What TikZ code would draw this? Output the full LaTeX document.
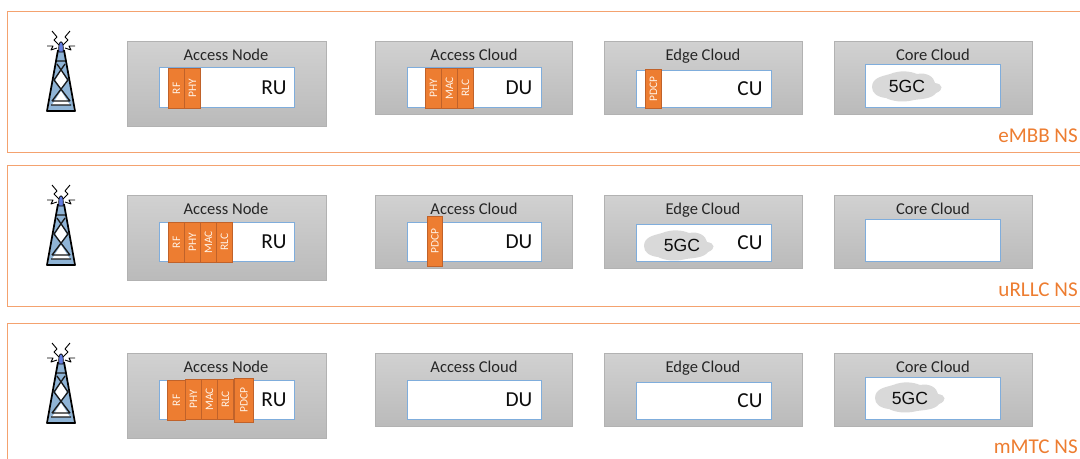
\documentclass[tikz,border=0pt]{standalone}
\usepackage{fontspec}
\setmainfont{Carlito}
\newfontfamily\arialf{Liberation Sans}
\definecolor{nsorange}{HTML}{ED7D31}
\definecolor{nsline}{HTML}{F4A26F}
\definecolor{boxblue}{HTML}{7FADDC}
\definecolor{blockedge}{HTML}{C0622A}
\definecolor{steel}{HTML}{8FB4D6}
\tikzset{
  x=0.75pt,y=-0.75pt,
  panel/.style={draw=nsline,line width=0.75pt},
  graybox/.style={draw=black!30,line width=0.6pt,top color=black!18,bottom color=black!27},
  whitebox/.style={draw=boxblue,fill=white,line width=0.7pt},
  block/.style={draw=blockedge,fill=nsorange,line width=0.6pt},
  blocktext/.style={text=white!90!orange,font=\fontsize{8.6}{9}\selectfont,rotate=90,inner sep=0pt},
  title/.style={text=black!85,font=\fontsize{12.4}{14}\selectfont,inner sep=0pt,text height=8.5pt,text depth=2.5pt},
  unit/.style={text=black!95,font=\fontsize{16}{18}\selectfont,inner sep=0pt},
  gc/.style={text=black!95,font=\arialf\fontsize{13.2}{15}\selectfont,inner sep=0pt},
  nslabel/.style={text=nsorange,font=\fontsize{15.8}{18}\selectfont,inner sep=0pt,anchor=east},
  towerleg/.style={draw=black,line width=1.3pt,line join=round},
  towerbrace/.style={draw=black!90,line width=1pt},
  zap/.style={draw=black,line width=0.7pt,line join=round},
  towerblue/.style={fill=steel},
  cloudfill/.style={fill=black!15,draw=none},
}
\newcommand{\gbox}[5]{\node[graybox,inner sep=0pt,minimum width=#4*0.75pt-#2*0.75pt-0.5pt,minimum height=#5*0.75pt-#3*0.75pt-0.5pt,anchor=north west] (#1) at (#2,#3) {};}
\newcommand{\wbox}[5]{\node[whitebox,inner sep=0pt,minimum width=#4*0.75pt-#2*0.75pt-0.5pt,minimum height=#5*0.75pt-#3*0.75pt-0.5pt,anchor=north west] (#1) at (#2,#3) {};}
\newcommand{\blk}[6]{\node[block,inner sep=0pt,minimum width=#4*0.75pt-#2*0.75pt,minimum height=#5*0.75pt-#3*0.75pt,anchor=north west] (#1) at (#2,#3) {};
  \node[blocktext] (#1t) at (#1.center) {#6};}
\newcommand{\tower}[1]{\begin{scope}[shift={(61,#1)}]
  \path[towerblue] (-3.5,20) -- (3.5,20) -- (13,80) -- (-13,80) -- cycle;
  \path[fill=white] (0,60) -- (9,74) -- (-9,74) -- cycle;
  \path[fill=white] (0,39) -- (5.5,49) -- (0,58) -- (-5.5,49) -- cycle;
  \draw[towerleg] (-3,19) -- (-14,80) -- (14,80) -- (3,19);
  \draw[towerbrace] (-4,30) -- (4,30) (-4,33) -- (7,49) -- (-9,70)
     (4,33) -- (-7,49) -- (9,70) (-9,70) -- (9,70) (-10,74) -- (10,74);
  \path[fill=steel!70!blue,draw=black,line width=0.5pt] (-2.2,16) .. controls (-2.2,9) and (2.2,9) .. (2.2,16) -- (2.2,21) -- (-2.2,21) -- cycle;
  \draw[zap] (-9,0) -- (-4,6) -- (-7,9) -- (-2,14);
  \draw[zap] (9,0) -- (4,6) -- (7,9) -- (2,14);
  \draw[zap] (-14,15) -- (-8,15) -- (-10,19) -- (-4,17);
  \draw[zap] (14,15) -- (8,15) -- (10,19) -- (4,17);
\end{scope}}
\newcommand{\blob}[2]{\begin{scope}[shift={(#1,#2)}]
  \path[cloudfill] (0,16) .. controls (0,6) and (12,5) .. (18,3) .. controls (28,-1) and (38,0) .. (45,3)
   .. controls (55,1) and (62,6) .. (63,12) .. controls (71,13) and (72,19) .. (64,22)
   .. controls (60,28) and (48,28) .. (42,29) .. controls (30,32) and (20,30) .. (14,27) .. controls (5,26) and (0,22) .. (0,16) -- cycle;
\end{scope}}
\begin{document}
\begin{tikzpicture}
\useasboundingbox (0,0) rectangle (1080,458);
\draw[panel] (1081,11) -- (7,11) -- (7,152) -- (1081,152);
\draw[panel] (1081,165) -- (7,165) -- (7,306) -- (1081,306);
\draw[panel] (1081,323) -- (7,323) -- (7,459);
\tower{31}\tower{185}\tower{343}
% row 1
\gbox{an1}{127}{41}{327}{127}\gbox{ac1}{375}{41}{573}{115}\gbox{ec1}{604}{41}{803}{115}\gbox{cc1}{834}{41}{1033}{115}
\wbox{ru1}{159}{67}{295}{108}\wbox{du1}{407}{67}{542}{108}\wbox{cu1}{636}{70}{772}{108}\wbox{co1}{865}{64}{1001}{108}
\node[title] (tan1) at (226,56) {Access Node};
\node[title] (tac1) at (474,56) {Access Cloud};
\node[title] (tec1) at (703,56) {Edge Cloud};
\node[title] (tcc1) at (933,56) {Core Cloud};
\blk{a1}{168}{68}{184}{108}{RF}\blk{a2}{184}{68}{200}{108}{PHY}
\blk{b1}{425}{68}{441}{108}{PHY}\blk{b2}{441}{68}{457}{108}{MAC}\blk{b3}{457}{68}{473}{108}{RLC}
\blk{c1}{645}{69}{661}{108}{PDCP}
\node[unit] (lru1) at (274,88) {RU};
\node[unit] (ldu1) at (519,88) {DU};
\node[unit] (lcu1) at (750,89) {CU};
\blob{872}{71}
\node[gc] (g1) at (907,86) {5GC};
\node[nslabel] (ns1) at (1078,136) {eMBB NS};
% row 2
\gbox{an2}{127}{195}{327}{281}\gbox{ac2}{375}{195}{573}{269}\gbox{ec2}{604}{195}{803}{269}\gbox{cc2}{834}{195}{1033}{269}
\wbox{ru2}{159}{222}{295}{262}\wbox{du2}{407}{222}{542}{262}\wbox{cu2}{636}{224}{772}{262}\wbox{co2}{865}{219}{1001}{262}
\node[title] (tan2) at (226,210) {Access Node};
\node[title] (tac2) at (474,210) {Access Cloud};
\node[title] (tec2) at (703,210) {Edge Cloud};
\node[title] (tcc2) at (933,210) {Core Cloud};
\blk{d1}{168}{222}{184}{262}{RF}\blk{d2}{184}{222}{200}{262}{PHY}\blk{d3}{200}{222}{216}{262}{MAC}\blk{d4}{216}{222}{232}{262}{RLC}
\blk{e1}{427}{216}{442}{266}{PDCP}
\node[unit] (lru2) at (274,242) {RU};
\node[unit] (ldu2) at (519,242) {DU};
\node[unit] (lcu2) at (750,243) {CU};
\blob{644}{230}
\node[gc] (g2) at (682,245) {5GC};
\node[nslabel] (ns2) at (1078,290) {uRLLC NS};
% row 3
\gbox{an3}{127}{353}{327}{439}\gbox{ac3}{375}{353}{573}{427}\gbox{ec3}{604}{353}{803}{427}\gbox{cc3}{834}{353}{1033}{427}
\wbox{ru3}{159}{380}{295}{420}\wbox{du3}{407}{380}{542}{420}\wbox{cu3}{636}{382}{772}{420}\wbox{co3}{865}{377}{1001}{420}
\node[title] (tan3) at (226,368) {Access Node};
\node[title] (tac3) at (474,368) {Access Cloud};
\node[title] (tec3) at (703,368) {Edge Cloud};
\node[title] (tcc3) at (933,368) {Core Cloud};
\blk{f1}{167}{380}{185}{420}{RF}\blk{f2}{185}{379}{201}{419}{PHY}\blk{f3}{201}{379}{217}{419}{MAC}\blk{f4}{217}{379}{233}{419}{RLC}
\blk{f5}{234}{378}{253}{422}{PDCP}
\node[unit] (lru3) at (274,400) {RU};
\node[unit] (ldu3) at (519,400) {DU};
\node[unit] (lcu3) at (750,401) {CU};
\blob{875}{382}
\node[gc] (g3) at (910,398) {5GC};
\node[nslabel] (ns3) at (1078,447) {mMTC NS};
\end{tikzpicture}
\end{document}
